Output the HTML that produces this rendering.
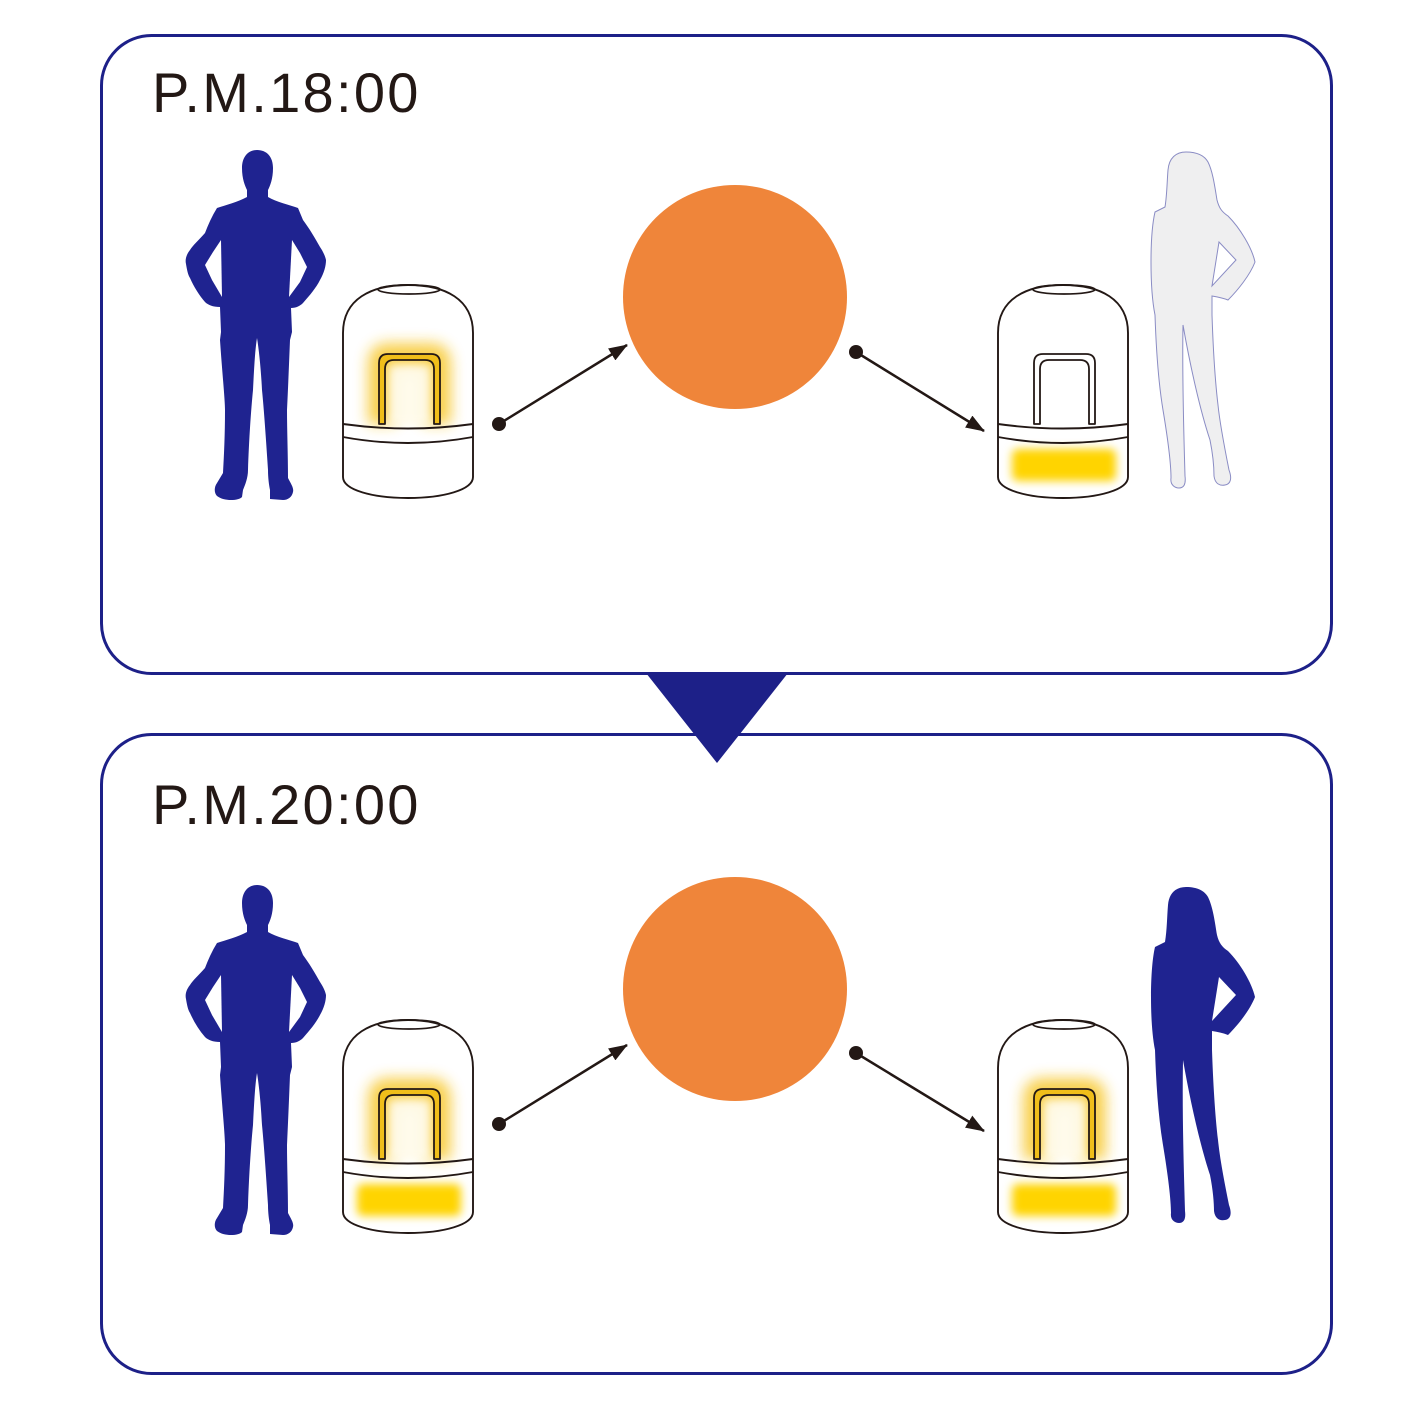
<!DOCTYPE html>
<html>
<head>
<meta charset="utf-8">
<style>
  html, body { margin:0; padding:0; background:#ffffff; }
  body { width:1418px; height:1418px; overflow:hidden; }
  svg { display:block; }
  .lbl { font-family: "Liberation Sans", Arial, sans-serif; font-size:56px; fill:#231815; letter-spacing:2.3px; }
</style>
</head>
<body>
<svg width="1418" height="1418" viewBox="0 0 1418 1418" xmlns="http://www.w3.org/2000/svg">
  <defs>
    <filter id="blurHandle" x="-60%" y="-60%" width="220%" height="220%">
      <feGaussianBlur stdDeviation="7"/>
    </filter>
    <filter id="blurBase" x="-30%" y="-80%" width="160%" height="260%">
      <feGaussianBlur stdDeviation="4.5"/>
    </filter>
    <marker id="ah" markerWidth="20" markerHeight="14" refX="18" refY="7" orient="auto" markerUnits="userSpaceOnUse">
      <path d="M0,0 L19,7 L0,14 Z" fill="#231815"/>
    </marker>

    <path id="handle" d="M36,139 L36,78 Q36,69 45,69 L88,69 Q97,69 97,78 L97,139 L91,139 L91,84 Q91,75 82,75 L51,75 Q42,75 42,84 L42,139 Z"/>
    <path id="lampBody" d="M0,48 C0,14 28,0 65,0 C102,0 130,14 130,48 L130,192 C130,205 100,213 65,213 C30,213 0,205 0,192 Z"/>

    <g id="handleGlow">
      <path d="M36,139 L36,78 Q36,69 45,69 L88,69 Q97,69 97,78 L97,139 M91,139 L91,84 Q91,75 82,75 L51,75 Q42,75 42,84 L42,139" fill="none" stroke="#f7c520" stroke-width="22" filter="url(#blurHandle)" opacity="0.8"/>
      <rect x="46" y="80" width="41" height="60" fill="#fffbea" filter="url(#blurBase)" opacity="0.9"/>
    </g>
    <g id="baseGlow">
      <rect x="14" y="164" width="104" height="32" rx="6" fill="#ffd400" filter="url(#blurBase)"/>
    </g>
    <g id="lampLines">
      <use href="#lampBody" fill="none" stroke="#231815" stroke-width="1.9"/>
      <ellipse cx="66" cy="4.5" rx="31" ry="4.5" fill="none" stroke="#231815" stroke-width="1.7"/>
      <path d="M0,139 Q65,148 130,139 M0,152 Q65,164 130,152" fill="none" stroke="#231815" stroke-width="1.9"/>
    </g>

    <path id="manPath" d="M257,150 C248,150 242,157 242,168 C242,179 245,186 247,190 L247,197 C238,202 226,205 217,208 C212,216 208,225 205,233 C199,240 193,245 190,250 C186,255 185,260 186,264 C187,270 188,275 190,278 C194,287 199,295 205,302 C208,305 213,307 220,307 L221,332 L220,340 C222,370 225,400 225,410 C225,435 224,455 223,473 L217,483 C214,487 214,493 217,496 C221,499 226,500 231,500 C236,500 240,499 242,497 L243,490 C245,485 248,478 248,470 C249,440 251,410 253,390 C254,370 255,350 257,338 C259,350 261,370 262,390 C264,410 266,440 268,470 C268,478 269,485 270,490 L270,499 L283,500 C288,500 292,497 293,492 C294,488 291,484 288,478 C288,455 287,430 287,410 C288,390 289,365 290,340 L292,332 L291,308 C296,308 300,306 303,303 C310,295 316,288 320,280 C324,273 326,266 326,260 C325,255 322,250 320,247 C315,238 309,228 303,220 L298,208 C290,205 276,202 268,197 L268,190 C270,186 273,179 273,168 C273,157 267,150 257,150 Z"/>

    <path id="womanPath" d="M1186,152 C1176,152 1169,158 1168,170 C1167,182 1167,195 1165,207 L1155,212 C1152,225 1151,245 1151,262 C1151,280 1152,300 1155,315 C1156,345 1158,380 1163,410 C1168,440 1171,465 1171,478 C1170,485 1175,488 1179,488 C1184,488 1186,484 1185,476 C1184,440 1182,380 1183,325 C1190,365 1200,410 1210,440 C1213,455 1214,468 1214,476 C1215,484 1220,486 1225,485 C1231,484 1232,478 1229,470 C1225,450 1220,425 1218,405 C1215,380 1213,345 1212,315 L1212,296 C1218,297 1223,298 1228,300 C1238,290 1250,275 1255,262 C1252,248 1240,228 1228,216 C1222,212 1219,208 1217,200 C1215,188 1213,172 1208,162 C1204,155 1196,152 1186,152 Z"/>
  </defs>

  <!-- Panels -->
  <rect x="101.5" y="35.5" width="1230" height="638" rx="50" ry="50" fill="#ffffff" stroke="#1d2088" stroke-width="3"/>
  <rect x="101.5" y="734.5" width="1230" height="639" rx="50" ry="50" fill="#ffffff" stroke="#1d2088" stroke-width="3"/>
  <polygon points="646,673 788,673 717,763" fill="#1d2088"/>

  <!-- Labels -->
  <text class="lbl" x="152" y="112">P.M.18:00</text>
  <text class="lbl" x="152" y="824">P.M.20:00</text>

  <!-- Orange circles -->
  <circle cx="735" cy="297" r="112" fill="#ef853a"/>
  <circle cx="735" cy="989" r="112" fill="#ef853a"/>

  <!-- Arrows -->
  <g stroke="#231815" stroke-width="2.5" fill="none">
    <line x1="499" y1="424" x2="627" y2="345" marker-end="url(#ah)"/>
    <line x1="856" y1="352" x2="984" y2="431" marker-end="url(#ah)"/>
    <line x1="499" y1="1124" x2="627" y2="1045" marker-end="url(#ah)"/>
    <line x1="856" y1="1053" x2="984" y2="1131" marker-end="url(#ah)"/>
  </g>
  <g fill="#231815">
    <circle cx="499" cy="424" r="7"/>
    <circle cx="856" cy="352" r="7"/>
    <circle cx="499" cy="1124" r="7"/>
    <circle cx="856" cy="1053" r="7"/>
  </g>

  <!-- Man silhouettes -->
  <g id="man">
    <use href="#manPath" fill="#1f2390"/>
    <polygon fill="#ffffff" points="221,240 213,252 205,265 212,280 222,297"/>
    <polygon fill="#ffffff" points="292,240 300,253 307,267 300,282 289,297"/>
  </g>
  <use href="#man" transform="translate(0,735)"/>

  <!-- Woman silhouettes -->
  <g>
    <use href="#womanPath" fill="#efeff0" stroke="#8a8cc4" stroke-width="1"/>
    <polygon fill="#ffffff" stroke="#8a8cc4" stroke-width="1" points="1219,242 1212,286 1236,260"/>
  </g>
  <g transform="translate(0,735)">
    <use href="#womanPath" fill="#1f2390"/>
    <polygon fill="#ffffff" points="1219,242 1212,286 1236,260"/>
  </g>

  <!-- Lamp: top-left (handle lit) -->
  <g transform="translate(343,285)">
    <use href="#lampBody" fill="#ffffff"/>
    <use href="#handleGlow"/>
    <use href="#handle" fill="#f0be1a" stroke="#231815" stroke-width="1.8" stroke-linejoin="round"/>
    <use href="#lampLines"/>
  </g>

  <!-- Lamp: top-right (base lit) -->
  <g transform="translate(998,285)">
    <use href="#lampBody" fill="#ffffff"/>
    <use href="#baseGlow"/>
    <use href="#handle" fill="#ffffff" stroke="#231815" stroke-width="1.8" stroke-linejoin="round"/>
    <use href="#lampLines"/>
  </g>

  <!-- Lamp: bottom-left (both lit) -->
  <g transform="translate(343,1020)">
    <use href="#lampBody" fill="#ffffff"/>
    <use href="#handleGlow"/>
    <use href="#baseGlow"/>
    <use href="#handle" fill="#f0be1a" stroke="#231815" stroke-width="1.8" stroke-linejoin="round"/>
    <use href="#lampLines"/>
  </g>

  <!-- Lamp: bottom-right (both lit) -->
  <g transform="translate(998,1020)">
    <use href="#lampBody" fill="#ffffff"/>
    <use href="#handleGlow"/>
    <use href="#baseGlow"/>
    <use href="#handle" fill="#f0be1a" stroke="#231815" stroke-width="1.8" stroke-linejoin="round"/>
    <use href="#lampLines"/>
  </g>
</svg>
</body>
</html>
